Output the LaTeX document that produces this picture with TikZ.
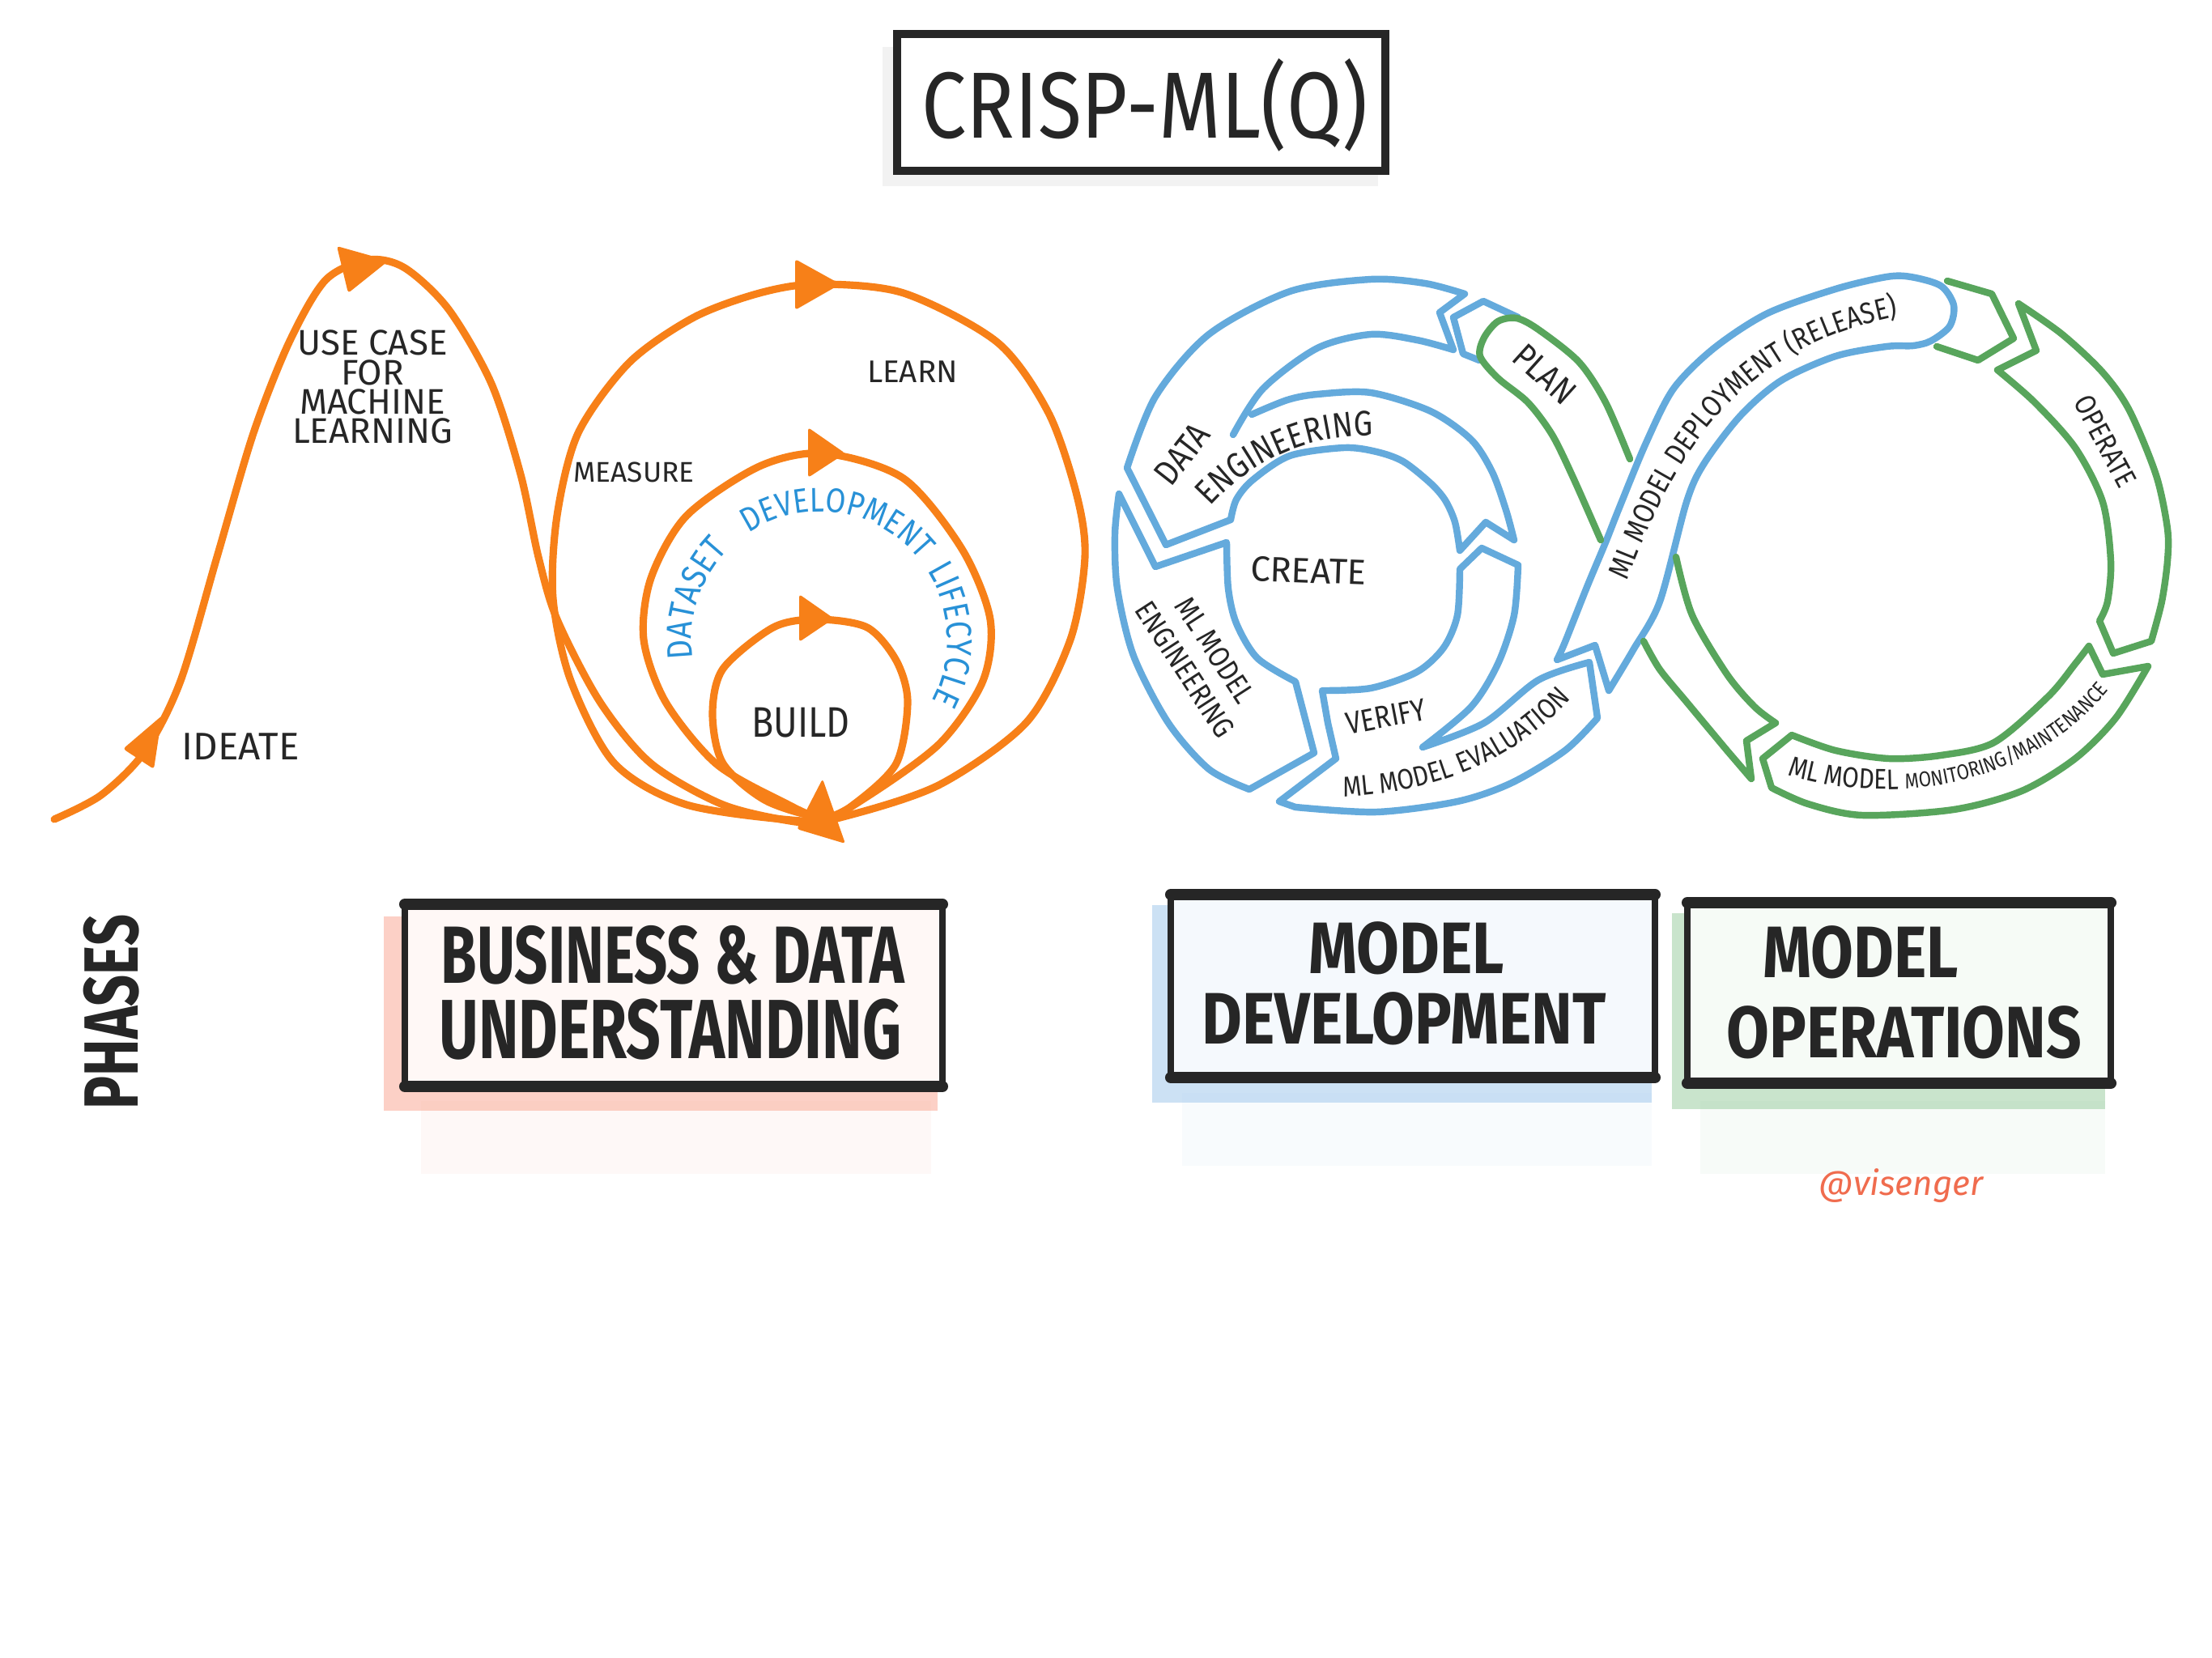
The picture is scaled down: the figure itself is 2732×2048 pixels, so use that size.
\documentclass[tikz,border=0pt]{standalone}
\usepackage{fontspec}
\setmainfont{Fira Sans}
\newfontfamily\handfont{Fira Sans}[FakeStretch=0.85]
\newfontfamily\widefont{Fira Sans}[FakeStretch=0.72]
\usepackage{xcolor}
\usepackage{tikz}
\usetikzlibrary{decorations.text}

\definecolor{mlorange}{RGB}{247,128,24}
\definecolor{devblue}{RGB}{100,170,220}
\definecolor{opsgreen}{RGB}{88,165,92}
\definecolor{ink}{RGB}{38,38,38}
\definecolor{lifeblue}{RGB}{40,145,215}
\definecolor{tagred}{RGB}{240,108,78}
\definecolor{bizwash}{RGB}{250,178,160}
\definecolor{devwash}{RGB}{170,205,238}
\definecolor{opswash}{RGB}{165,210,170}

\tikzset{
  orangeline/.style={draw=mlorange, line width=2.6pt, line cap=round, line join=round},
  blueband/.style={draw=devblue, line width=2.4pt, line cap=round, line join=round},
  greenband/.style={draw=opsgreen, line width=2.4pt, line cap=round, line join=round},
  inklabel/.style={font=\fontsize{12.5}{10.3}\selectfont, text=ink, align=center, inner sep=0pt},
  bandlabel/.style={font=\handfont\fontsize{12.4}{14}\selectfont, text=ink, inner sep=0pt},
  boxtext/.style={font=\handfont\bfseries\fontsize{25.6}{28}\selectfont, text=ink, inner sep=0pt},
  curvetext/.style={decorate, decoration={text along path, text align=center, text color=ink, text={#1}}},
  lifetext/.style={decorate, decoration={text along path, text align=center, text color=lifeblue, text={#1}}},
  boxedge/.style={draw=ink, line width=2.3pt},
  boxrim/.style={draw=ink, line width=4pt, line cap=round},
}

\begin{document}
\begin{tikzpicture}[x=0.01cm, y=-0.01cm]
\fill[white] (0,0) rectangle (2732,2048);
\useasboundingbox (0,0) rectangle (2732,2048);

% title
\fill[black!5] (1090,58) rectangle (1702,230);
\draw[boxedge, line width=3pt, fill=white] (1108,42) rectangle (1711,211);
\node (title) [font=\handfont\fontsize{33}{36}\selectfont, text=ink, inner sep=0pt] at (1414,130) {CRISP-ML(Q)};

% business & data understanding: curves
\draw[orangeline] plot[smooth] coordinates {(67,1012) (125,982) (179,928) (223,841) (268,688) (313,535) (357,423) (402,346) (455,321) (500,331) (554,382) (607,474) (643,586) (665,688) (688,765) (741,867) (804,943) (893,994) (982,1015) (1018,1012)};
\draw[orangeline] plot[smooth cycle] coordinates {(1009,351) (1116,362) (1232,423) (1295,510) (1330,612) (1340,688) (1322,790) (1268,892) (1161,969) (1045,1008) (990,1014) (848,994) (759,943) (705,841) (683,739) (688,637) (714,535) (777,448) (857,392) (938,362)};
\draw[orangeline] plot[smooth cycle] coordinates {(1018,560) (1116,591) (1188,678) (1223,765) (1214,841) (1161,918) (1071,984) (1018,1010) (964,989) (884,943) (822,867) (795,790) (804,714) (848,637) (938,576)};
\draw[orangeline] plot[smooth cycle] coordinates {(1009,765) (1071,775) (1107,816) (1121,867) (1107,943) (1054,994) (1018,1010) (946,989) (893,943) (880,882) (893,826) (955,775)};
% arrow heads
\fill[mlorange, rounded corners=1pt] (200,884) -- (190,950) -- (152,925) -- cycle;
\fill[mlorange, rounded corners=1pt] (416,304) -- (480,322) -- (430,362) -- cycle;
\fill[mlorange, rounded corners=1pt] (982,320) -- (1038,351) -- (982,383) -- cycle;
\fill[mlorange, rounded corners=1pt] (998,528) -- (1044,560) -- (998,590) -- cycle;
\fill[mlorange, rounded corners=1pt] (987,734) -- (1030,764) -- (987,793) -- cycle;
\fill[mlorange, rounded corners=1pt] (1016,962) -- (1044,1042) -- (984,1024) -- cycle;

\node (usecase) [inklabel] at (460,478) {USE CASE\\FOR\\MACHINE\\LEARNING};
\node (ideate) [inklabel, font=\fontsize{13.5}{15}\selectfont] at (297,922) {IDEATE};
\node (measure) [inklabel, font=\fontsize{10}{12}\selectfont] at (783,583) {MEASURE};
\node (learn) [inklabel, font=\fontsize{11}{12}\selectfont] at (1127,459) {LEARN};
\node (build) [inklabel, font=\handfont\fontsize{15}{17}\selectfont] at (989,893) {BUILD};
\path[lifetext={|\handfont\fontsize{12.5}{14}\selectfont|DATASET}] (1012,790) ++(158:158) arc[start angle=158, end angle=238, radius=158];
\path[lifetext={|\handfont\fontsize{12}{14}\selectfont|DEVELOPMENT}] (1012,790) ++(222:158) arc[start angle=222, end angle=336, radius=158];
\path[lifetext={|\handfont\fontsize{12.5}{14}\selectfont|LIFECYCLE}] (1012,790) ++(316:158) arc[start angle=316, end angle=400, radius=158];

% model development bands
\draw[blueband] (1440,673) -- plot[smooth] coordinates {(1392,578) (1427,490) (1493,413) (1593,360) (1693,345) (1760,350) (1809,363)} -- (1778,386) -- plot[smooth] coordinates {(1795,432) (1750,420) (1693,413) (1627,430) (1560,480) (1523,537)};
\draw[blueband] plot[smooth] coordinates {(1546,512) (1590,494) (1627,487) (1693,485) (1767,508) (1817,543) (1843,583) (1860,630) (1870,667)} -- (1835,645) -- plot[smooth] coordinates {(1803,680) (1797,645) (1785,618) (1767,597) (1733,570) (1700,558) (1660,553) (1593,563) (1547,593) (1527,617) (1520,642)} -- (1440,673);
\draw[blueband] (1382,610) -- (1427,700) -- plot[smooth] coordinates {(1515,670) (1517,727) (1527,770) (1553,813) (1600,842)} -- (1623,930) -- plot[smooth] coordinates {(1543,975) (1493,950) (1443,893) (1400,810) (1380,727) (1377,660) (1382,610)};
\draw[blueband] (1580,990) -- (1650,937) -- (1640,893) -- plot[smooth] coordinates {(1633,853) (1693,850) (1750,830) (1783,800) (1800,760) (1803,703)} -- (1830,677) -- plot[smooth] coordinates {(1875,698) (1870,760) (1850,820) (1817,873) (1757,923)} -- plot[smooth] coordinates {(1757,923) (1833,893) (1900,840) (1963,818)} -- (1973,887) -- plot[smooth] coordinates {(1973,887) (1933,927) (1867,967) (1800,990) (1700,1003) (1600,997)} -- (1580,990);
\draw[blueband] (1923,815) -- (1970,797) -- plot[smooth] coordinates {(1987,853) (2017,803) (2050,743) (2083,620) (2105,572) (2150,513) (2200,470) (2267,440) (2330,428) (2363,427) (2385,421) (2408,403) (2413,377) (2397,353) (2360,342) (2330,342) (2267,357) (2183,387) (2117,430) (2067,480) (2033,547) (2000,627) (1983,670) (1960,725) (1933,793) (1923,815)};

\path[curvetext={|\handfont\fontsize{12.4}{14}\selectfont|ENGINEERING}] (1690,800) ++(200:262) arc[start angle=200, end angle=293, radius=262];
\node (data) [bandlabel, rotate=52] at (1460,561) {DATA};
\node (create) [bandlabel, rotate=-2, font=\fontsize{12.4}{14}\selectfont] at (1616,705) {CREATE};
\node (mlengineering) [bandlabel, rotate=-57, align=center, font=\handfont\fontsize{10.5}{12.5}\selectfont] at (1482,815) {ML MODEL\\ENGINEERING};
\node (verify) [bandlabel, rotate=11, font=\handfont\fontsize{11}{12}\selectfont] at (1712,885) {VERIFY};
\path[curvetext={|\handfont\fontsize{10}{12}\selectfont|ML MODEL EVALUATION}] (1630,985) .. controls (1745,985) and (1870,955) .. (1960,840);
\path[curvetext={|\handfont\fontsize{10.5}{12}\selectfont|ML MODEL DEPLOYMENT (RELEASE)}] (1990,770) .. controls (2052,600) and (2120,410) .. (2400,383);

% model operations bands
\draw[blueband] (1827,445) -- (1807,437) -- (1795,392) -- (1832,372) -- (1875,392);
\draw[greenband] plot[smooth] coordinates {(2013,567) (1983,497) (1950,447) (1900,407) (1873,393) (1850,397) (1833,417) (1828,440) (1850,467) (1887,497) (1917,537) (1943,590) (1977,667)};
\draw[greenband] plot[smooth] coordinates {(2070,688) (2090,760) (2133,833) (2167,873) (2193,893)} -- (2157,915) -- (2163,962) -- plot[smooth] coordinates {(2133,927) (2083,867) (2050,827) (2030,792)};
\draw[greenband] (2405,347) -- (2460,363) -- (2487,418) -- (2443,445) -- (2392,428);
\draw[greenband] (2493,375) -- (2515,433) -- plot[smooth] coordinates {(2467,457) (2513,497) (2563,553) (2597,620) (2607,693) (2603,743) (2593,767)} -- (2610,807) -- plot[smooth] coordinates {(2657,792) (2670,743) (2677,693) (2677,653) (2663,587) (2630,507) (2597,460) (2547,413) (2493,375)};
\draw[greenband] (2213,908) -- (2177,937) -- plot[smooth] coordinates {(2188,973) (2233,993) (2300,1007) (2413,1000) (2497,977) (2563,937) (2613,887) (2653,823)} -- (2597,833) -- plot[smooth] coordinates {(2580,798) (2563,820) (2530,860) (2463,917) (2397,933) (2333,937) (2267,927) (2213,908)};

\node (plan) [bandlabel, rotate=-42] at (1908,462) {PLAN};
\node (operate) [bandlabel, rotate=-62, font=\handfont\fontsize{10.3}{12}\selectfont] at (2600,545) {OPERATE};
\path[curvetext={|\handfont\fontsize{10}{12}\selectfont|ML MODEL |\handfont\fontsize{7.5}{9}\selectfont|MONITORING/MAINTENANCE}] (2180,948) .. controls (2330,1005) and (2520,975) .. (2622,830);

% phase boxes
\fill[bizwash, opacity=.08] (520,1360) rectangle (1150,1450);
\fill[bizwash, opacity=.6] (474,1132) rectangle (1158,1372);
\draw[boxedge, fill={rgb,255:red,255;green,248;blue,246}] (500,1117) rectangle (1164,1342);
\draw[boxrim] (500,1117) -- (1164,1117) (500,1342) -- (1164,1342);
\node (bizline1) [boxtext, font=\widefont\bfseries\fontsize{28.5}{30}\selectfont] at (831,1180) {BUSINESS \& DATA};
\node (bizline2) [boxtext, font=\widefont\bfseries\fontsize{29.5}{30}\selectfont] at (828,1272) {UNDERSTANDING};

\fill[devwash, opacity=.08] (1460,1350) rectangle (2040,1440);
\fill[devwash, opacity=.6] (1423,1118) rectangle (2040,1362);
\draw[boxedge, fill={rgb,255:red,245;green,249;blue,253}] (1446,1105) rectangle (2044,1331);
\draw[boxrim] (1446,1105) -- (2044,1105) (1446,1331) -- (2044,1331);
\node (devline1) [boxtext] at (1737,1171) {MODEL};
\node (devline2) [boxtext] at (1734,1258) {DEVELOPMENT};

\fill[opswash, opacity=.08] (2100,1360) rectangle (2600,1450);
\fill[opswash, opacity=.6] (2065,1128) rectangle (2600,1370);
\draw[boxedge, fill={rgb,255:red,246;green,251;blue,246}] (2084,1115) rectangle (2607,1338);
\draw[boxrim] (2084,1115) -- (2607,1115) (2084,1338) -- (2607,1338);
\node (opsline1) [boxtext] at (2298,1176) {MODEL};
\node (opsline2) [boxtext] at (2352,1275) {OPERATIONS};

\node (phases) [rotate=90, font=\widefont\bfseries\fontsize{27}{30}\selectfont, text=ink, inner sep=0pt] at (138,1250) {PHASES};
\node (credit) [font=\itshape\fontsize{12}{14}\selectfont, text=tagred, inner sep=0pt] at (2348,1465) {@visenger};
\end{tikzpicture}
\end{document}
